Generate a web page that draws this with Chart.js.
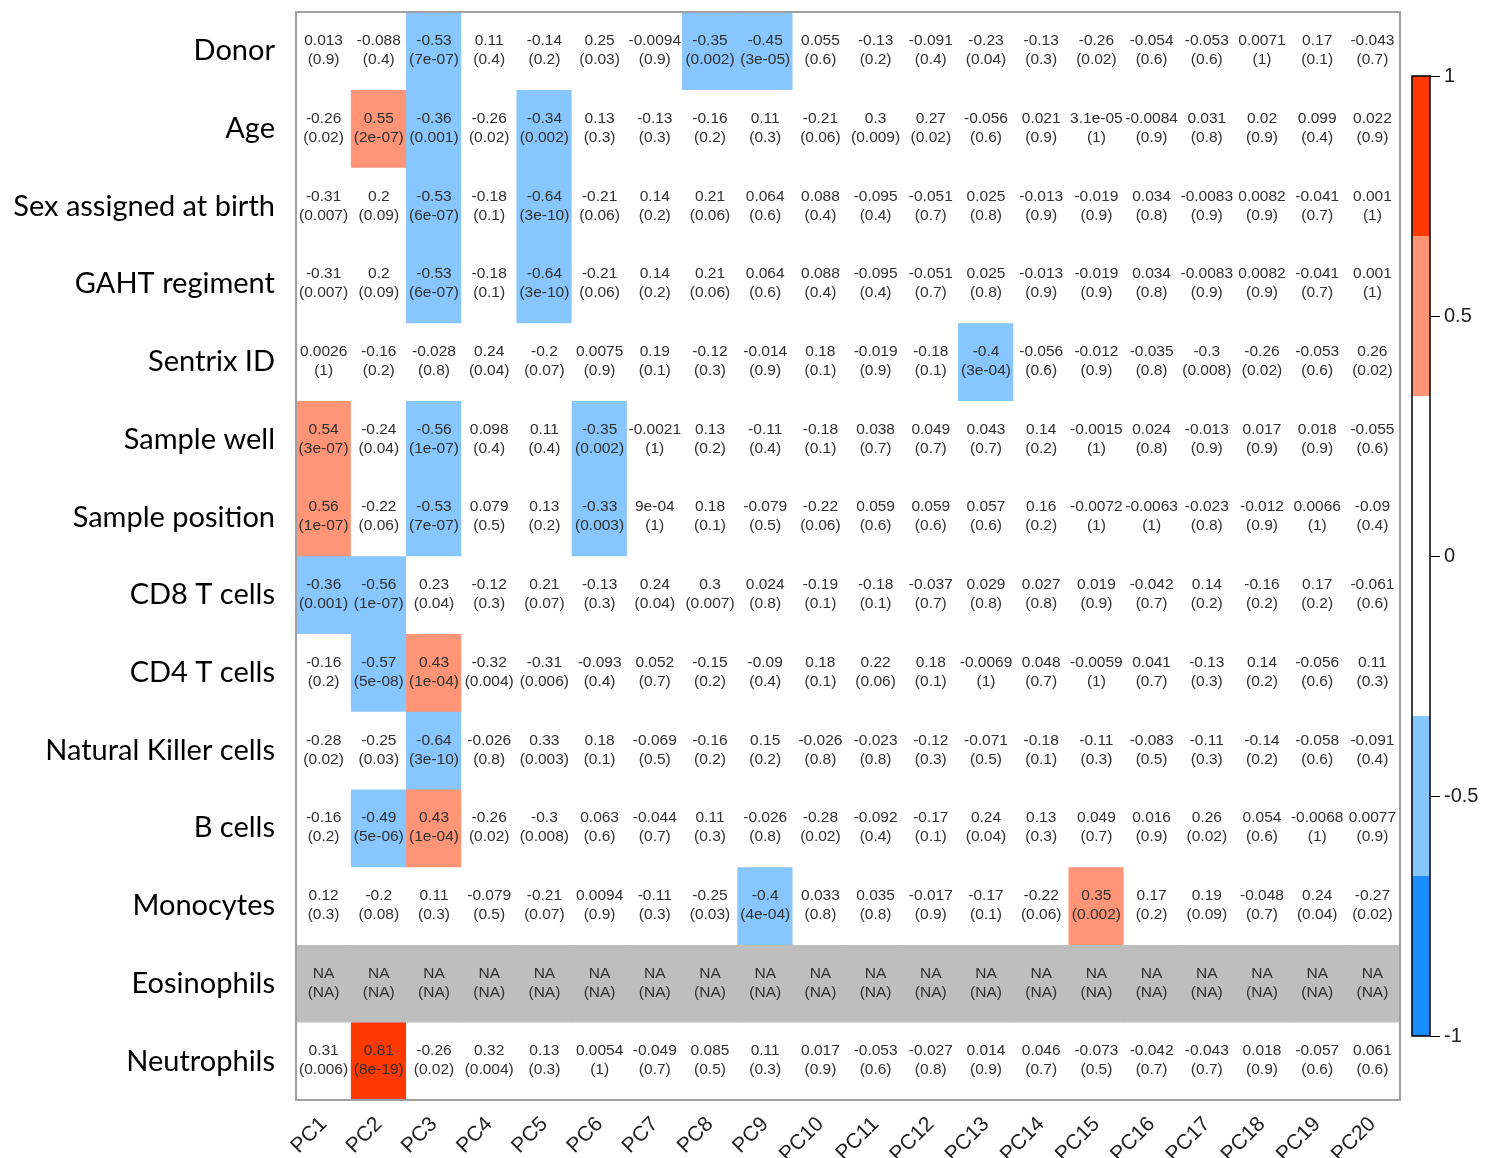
<!DOCTYPE html>
<html>
<head>
<meta charset="utf-8">
<script src="https://cdn.jsdelivr.net/npm/chart.js@4.4.1/dist/chart.umd.min.js"></script>
<style>
  html, body { margin: 0; padding: 0; background: #fff; }
  #wrap { width: 1501px; height: 1158px; position: relative; }
</style>
</head>
<body>
<div id="wrap"><canvas id="heat"></canvas></div>
<script>
const pcLabels = ["PC1","PC2","PC3","PC4","PC5","PC6","PC7","PC8","PC9","PC10",
  "PC11","PC12","PC13","PC14","PC15","PC16","PC17","PC18","PC19","PC20"];

const traitLabels = ["Donor","Age","Sex assigned at birth","GAHT regiment","Sentrix ID",
  "Sample well","Sample position","CD8 T cells","CD4 T cells","Natural Killer cells",
  "B cells","Monocytes","Eosinophils","Neutrophils"];

// correlation per trait (row), one value per PC; null = NA
const donorCor = [0.013,-0.088,-0.53,0.11,-0.14,0.25,-0.0094,-0.35,-0.45,0.055,-0.13,-0.091,-0.23,-0.13,-0.26,-0.054,-0.053,0.0071,0.17,-0.043];
const ageCor = [-0.26,0.55,-0.36,-0.26,-0.34,0.13,-0.13,-0.16,0.11,-0.21,0.3,0.27,-0.056,0.021,3.1e-05,-0.0084,0.031,0.02,0.099,0.022];
const sexCor = [-0.31,0.2,-0.53,-0.18,-0.64,-0.21,0.14,0.21,0.064,0.088,-0.095,-0.051,0.025,-0.013,-0.019,0.034,-0.0083,0.0082,-0.041,0.001];
const gahtCor = [-0.31,0.2,-0.53,-0.18,-0.64,-0.21,0.14,0.21,0.064,0.088,-0.095,-0.051,0.025,-0.013,-0.019,0.034,-0.0083,0.0082,-0.041,0.001];
const sentrixCor = [0.0026,-0.16,-0.028,0.24,-0.2,0.0075,0.19,-0.12,-0.014,0.18,-0.019,-0.18,-0.4,-0.056,-0.012,-0.035,-0.3,-0.26,-0.053,0.26];
const wellCor = [0.54,-0.24,-0.56,0.098,0.11,-0.35,-0.0021,0.13,-0.11,-0.18,0.038,0.049,0.043,0.14,-0.0015,0.024,-0.013,0.017,0.018,-0.055];
const positionCor = [0.56,-0.22,-0.53,0.079,0.13,-0.334,9e-04,0.18,-0.079,-0.22,0.059,0.059,0.057,0.16,-0.0072,-0.0063,-0.023,-0.012,0.0066,-0.09];
const cd8Cor = [-0.36,-0.56,0.23,-0.12,0.21,-0.13,0.24,0.3,0.024,-0.19,-0.18,-0.037,0.029,0.027,0.019,-0.042,0.14,-0.16,0.17,-0.061];
const cd4Cor = [-0.16,-0.57,0.43,-0.32,-0.31,-0.093,0.052,-0.15,-0.09,0.18,0.22,0.18,-0.0069,0.048,-0.0059,0.041,-0.13,0.14,-0.056,0.11];
const nkCor = [-0.28,-0.25,-0.64,-0.026,0.33,0.18,-0.069,-0.16,0.15,-0.026,-0.023,-0.12,-0.071,-0.18,-0.11,-0.083,-0.11,-0.14,-0.058,-0.091];
const bCor = [-0.16,-0.49,0.43,-0.26,-0.3,0.063,-0.044,0.11,-0.026,-0.28,-0.092,-0.17,0.24,0.13,0.049,0.016,0.26,0.054,-0.0068,0.0077];
const monoCor = [0.12,-0.2,0.11,-0.079,-0.21,0.0094,-0.11,-0.25,-0.4,0.033,0.035,-0.017,-0.17,-0.22,0.35,0.17,0.19,-0.048,0.24,-0.27];
const eosCor = [null,null,null,null,null,null,null,null,null,null,null,null,null,null,null,null,null,null,null,null];
const neutroCor = [0.31,0.81,-0.26,0.32,0.13,0.0054,-0.049,0.085,0.11,0.017,-0.053,-0.027,0.014,0.046,-0.073,-0.042,-0.043,0.018,-0.057,0.061];

// p-values, same layout
const donorP = [0.9,0.4,7e-07,0.4,0.2,0.03,0.9,0.002,3e-05,0.6,0.2,0.4,0.04,0.3,0.02,0.6,0.6,1,0.1,0.7];
const ageP = [0.02,2e-07,0.001,0.02,0.002,0.3,0.3,0.2,0.3,0.06,0.009,0.02,0.6,0.9,1,0.9,0.8,0.9,0.4,0.9];
const sexP = [0.007,0.09,6e-07,0.1,3e-10,0.06,0.2,0.06,0.6,0.4,0.4,0.7,0.8,0.9,0.9,0.8,0.9,0.9,0.7,1];
const gahtP = [0.007,0.09,6e-07,0.1,3e-10,0.06,0.2,0.06,0.6,0.4,0.4,0.7,0.8,0.9,0.9,0.8,0.9,0.9,0.7,1];
const sentrixP = [1,0.2,0.8,0.04,0.07,0.9,0.1,0.3,0.9,0.1,0.9,0.1,3e-04,0.6,0.9,0.8,0.008,0.02,0.6,0.02];
const wellP = [3e-07,0.04,1e-07,0.4,0.4,0.002,1,0.2,0.4,0.1,0.7,0.7,0.7,0.2,1,0.8,0.9,0.9,0.9,0.6];
const positionP = [1e-07,0.06,7e-07,0.5,0.2,0.003,1,0.1,0.5,0.06,0.6,0.6,0.6,0.2,1,1,0.8,0.9,1,0.4];
const cd8P = [0.001,1e-07,0.04,0.3,0.07,0.3,0.04,0.007,0.8,0.1,0.1,0.7,0.8,0.8,0.9,0.7,0.2,0.2,0.2,0.6];
const cd4P = [0.2,5e-08,1e-04,0.004,0.006,0.4,0.7,0.2,0.4,0.1,0.06,0.1,1,0.7,1,0.7,0.3,0.2,0.6,0.3];
const nkP = [0.02,0.03,3e-10,0.8,0.003,0.1,0.5,0.2,0.2,0.8,0.8,0.3,0.5,0.1,0.3,0.5,0.3,0.2,0.6,0.4];
const bP = [0.2,5e-06,1e-04,0.02,0.008,0.6,0.7,0.3,0.8,0.02,0.4,0.1,0.04,0.3,0.7,0.9,0.02,0.6,1,0.9];
const monoP = [0.3,0.08,0.3,0.5,0.07,0.9,0.3,0.03,4e-04,0.8,0.8,0.9,0.1,0.06,0.002,0.2,0.09,0.7,0.04,0.02];
const eosP = [null,null,null,null,null,null,null,null,null,null,null,null,null,null,null,null,null,null,null,null];
const neutroP = [0.006,8e-19,0.02,0.004,0.3,1,0.7,0.5,0.3,0.9,0.6,0.8,0.9,0.7,0.5,0.7,0.7,0.9,0.6,0.6];

const corRows = [donorCor,ageCor,sexCor,gahtCor,sentrixCor,wellCor,positionCor,cd8Cor,cd4Cor,nkCor,bCor,monoCor,eosCor,neutroCor];
const pRows = [donorP,ageP,sexP,gahtP,sentrixP,wellP,positionP,cd8P,cd4P,nkP,bP,monoP,eosP,neutroP];

const colorBreaks = [-1, -2/3, -1/3, 1/3, 2/3, 1];
const colorSteps = ["#1a8cff", "#87c6ff", "#ffffff", "#ff9477", "#ff3a00"];
const naColor = "#bebebe";

function cellColor(v) {
  if (v === null) return naColor;
  for (let k = 0; k < colorSteps.length; k++) {
    if (v <= colorBreaks[k + 1]) return colorSteps[k];
  }
  return colorSteps[colorSteps.length - 1];
}

// mimic R's choice between fixed and scientific notation
function rFormat(v) {
  if (v === null) return "NA";
  if (v === 0) return "0";
  const sign = v < 0 ? "-" : "";
  const ex = Math.abs(v).toExponential();
  const [mant, expStr] = ex.split("e");
  const exp = parseInt(expStr, 10);
  const digits = mant.replace(".", "");
  let fixed;
  if (exp < 0) fixed = sign + "0." + "0".repeat(-exp - 1) + digits;
  else fixed = sign + String(Math.abs(v));
  const sci = sign + mant + "e" + (exp < 0 ? "-" : "+") + String(Math.abs(exp)).padStart(2, "0");
  return fixed.length <= sci.length ? fixed : sci;
}

function corText(v) {
  if (v === null) return "NA";
  return rFormat(Number(v.toPrecision(2)));
}

const datasets = corRows.map((row, i) => ({
  label: traitLabels[i],
  data: row.map(() => [i, i + 1]),
  backgroundColor: row.map(cellColor),
  borderWidth: 0,
  barPercentage: 1,
  categoryPercentage: 1,
  grouped: false,
  yAxisID: "y",
}));

const cellText = {
  id: "cellText",
  afterDatasetsDraw(chart) {
    const { ctx } = chart;
    const xs = chart.scales.x, ys = chart.scales.y;
    ctx.save();
    ctx.font = "15.5px 'Liberation Sans', Arial, sans-serif";
    ctx.fillStyle = "#303030";
    ctx.textAlign = "center";
    ctx.textBaseline = "middle";
    corRows.forEach((row, i) => {
      const cy = ys.getPixelForValue(i + 0.5);
      row.forEach((v, j) => {
        const cx = xs.getPixelForValue(j);
        ctx.fillText(corText(v), cx, cy - 10);
        ctx.fillText("(" + rFormat(pRows[i][j]) + ")", cx, cy + 9);
      });
    });
    // frame around the matrix
    const a = chart.chartArea;
    ctx.strokeStyle = "#a0a0a0";
    ctx.lineWidth = 2;
    ctx.strokeRect(a.left, a.top, a.right - a.left, a.bottom - a.top);
    ctx.restore();
  },
};

const colorBar = {
  id: "colorBar",
  afterDraw(chart) {
    const { ctx } = chart;
    const cb = chart.scales.cb;
    const x1 = cb.left, x0 = x1 - 18;
    ctx.save();
    for (let k = 0; k < colorSteps.length; k++) {
      const yTop = cb.getPixelForValue(colorBreaks[k + 1]);
      const yBot = cb.getPixelForValue(colorBreaks[k]);
      ctx.fillStyle = colorSteps[k];
      ctx.fillRect(x0, yTop, x1 - x0, yBot - yTop);
    }
    const top = cb.getPixelForValue(1), bot = cb.getPixelForValue(-1);
    ctx.strokeStyle = "#000";
    ctx.lineWidth = 1.5;
    ctx.strokeRect(x0, top, x1 - x0, bot - top);
    ctx.restore();
  },
};

function noVPad(s) {
  s.paddingTop = 0;
  s.paddingBottom = 0;
}

new Chart(document.getElementById("heat"), {
  type: "bar",
  data: { labels: pcLabels, datasets },
  options: {
    responsive: true,
    maintainAspectRatio: false,
    animation: false,
    layout: { padding: { top: 12, left: 0, right: 0, bottom: 0 } },
    plugins: { legend: { display: false }, tooltip: { enabled: false } },
    scales: {
      x: {
        type: "category",
        position: "bottom",
        grid: { display: false },
        border: { display: false },
        ticks: {
          color: "#222",
          font: { family: "'Liberation Sans', Arial, sans-serif", size: 21 },
          minRotation: 45,
          maxRotation: 45,
          autoSkip: false,
          padding: 4,
        },
        afterFit(s) { s.height = 58; s.paddingLeft = 0; s.paddingRight = 0; },
      },
      y: {
        type: "linear",
        min: 0,
        max: traitLabels.length,
        reverse: true,
        display: false,
      },
      yl: {
        type: "category",
        labels: traitLabels,
        position: "left",
        offset: true,
        grid: { display: false, drawTicks: false },
        border: { display: false },
        ticks: {
          color: "#000",
          font: { family: "Lato, 'Open Sans', sans-serif", size: 29 },
          padding: 21,
          autoSkip: false,
        },
        afterFit(s) { s.width = 296; noVPad(s); },
      },
      gap: {
        type: "linear",
        position: "right",
        grid: { display: false },
        border: { display: false },
        ticks: { display: false },
        afterFit(s) { s.width = 30; noVPad(s); },
      },
      cb: {
        type: "linear",
        position: "right",
        min: -1 - 64 / 480,
        max: 1 + 64 / 480,
        afterBuildTicks(s) {
          s.ticks = [-1, -0.5, 0, 0.5, 1].map((v) => ({ value: v }));
        },
        grid: { drawOnChartArea: false, drawTicks: true, tickLength: 10, color: "#000", lineWidth: 1 },
        border: { display: false },
        ticks: {
          color: "#222",
          font: { family: "'Liberation Sans', Arial, sans-serif", size: 20 },
          padding: 4,
          callback: (v) => String(v),
        },
        afterFit(s) { s.width = 71; noVPad(s); },
      },
    },
  },
  plugins: [cellText, colorBar],
});
</script>
</body>
</html>
